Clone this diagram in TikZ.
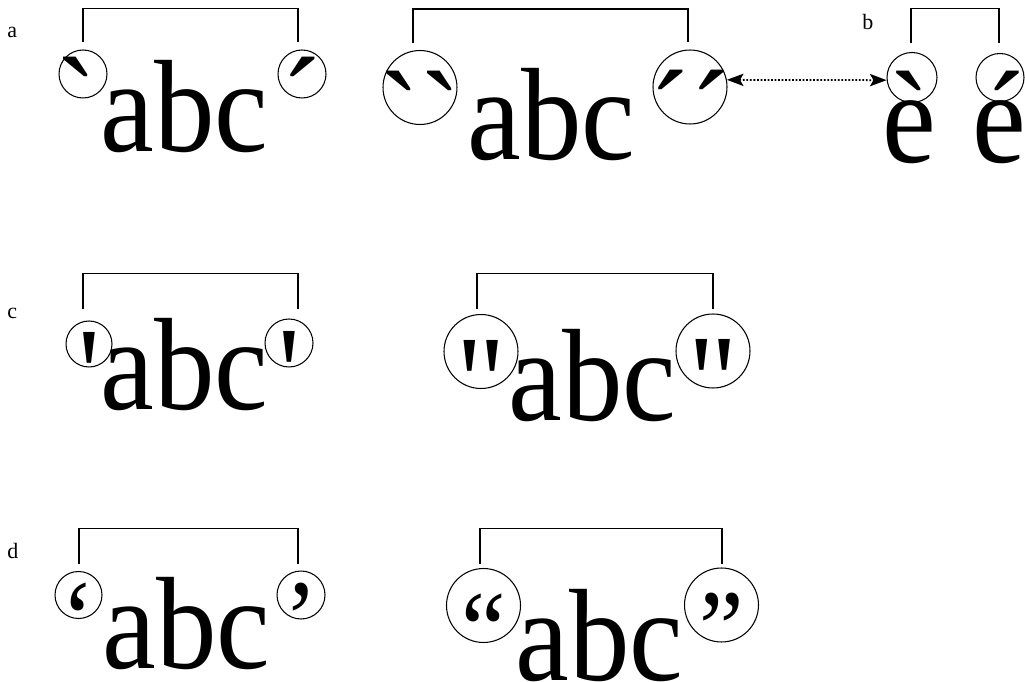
\documentclass[tikz,border=0pt]{standalone}
\usepackage{fontspec}
\setmainfont{Liberation Serif}
\newfontfamily\bigserif[FakeStretch=0.92]{Liberation Serif}
\usetikzlibrary{arrows.meta,calc}

\begin{document}
\begin{tikzpicture}[
  x=0.02cm, y=-0.02cm,
  word/.style={font=\bigserif\fontsize{74.8pt}{80pt}\selectfont,
               inner sep=0pt, anchor=base west},
  qmark/.style={font=\bigserif\fontsize{74.8pt}{80pt}\selectfont,
                inner sep=0pt, text height=3cm, text depth=0pt},
  qsmall/.style={font=\bigserif\fontsize{62pt}{66pt}\selectfont,
                 inner sep=0pt, text height=2.44cm, text depth=0pt},
  ring/.style={draw, circle, line width=0.6pt, inner sep=0pt, minimum size=0.96cm},
  bigring/.style={ring, minimum size=1.48cm},
  tag/.style={font=\fontsize{12.5pt}{14pt}\selectfont, inner sep=0pt, anchor=base west},
  brk/.style={line width=0.6pt},
  dotarr/.style={{Stealth[length=9.5pt,width=7pt,inset=2pt]}-{Stealth[length=9.5pt,width=7pt,inset=2pt]},
                 line width=1pt, dash pattern=on 1pt off 1pt},
]
\useasboundingbox (0,0) rectangle (1025,682);

% ---- Row a: single and double accents ----
\node[tag] (labA) at (7,38) {a};

\node[word] (abcA1) at (100.5,152) {abc};
\node[ring] (a1L) at (83,74) {};
\node[ring] (a1R) at (302,74) {};
\node[qmark, xshift=-0.12cm] (gA1L) at (a1L) {`};
\node[qmark] (gA1R) at (a1R) {´};
\draw[brk] ($(a1L.north)+(0,-7)$) -- ++(0,-34) -| ($(a1R.north)+(-4,-7)$);

\node[word] (abcA2) at (467.5,160) {abc};
\node[bigring] (a2L) at (420,87.5) {};
\node[bigring] (a2R) at (690,87) {};
\node[qmark] (gA2L) at (a2L) {``};
\node[qmark] (gA2R) at (a2R) {´´};
\draw[brk] ($(a2L.north)+(-7,-7)$) -- ++(0,-34) -| ($(a2R.north)+(-2,-7)$);

% ---- Row a, right: accented letters ----
\node[tag] (labB) at (862,30) {b};

\node[word] (eGrave) at (882,163) {è};
\node[word] (eAcute) at (972,163) {é};
\node[ring, minimum size=1cm] (bL) at (912,77.5) {};
\node[ring] (bR) at (1000,77.5) {};
\draw[brk] ($(bL.north)+(-1,-8.5)$) -- ++(0,-35) -| ($(bR.north)+(-1,-9.5)$);

\draw[dotarr] (a2R.11) -- (bL.186);

% ---- Row c: straight quotes ----
\node[tag] (labC) at (7,318) {c};

\node[word] (abcC1) at (100.5,410) {abc};
\node[ring, minimum size=0.92cm] (c1L) at (89,344) {};
\node[ring] (c1R) at (289,343) {};
\node[qmark] (gC1L) at (c1L) {'};
\node[qmark] (gC1R) at (c1R) {'};
\draw[brk] ($(c1L.north)+(-6,-11)$) -- ++(0,-36) -| ($(c1R.north)+(9,-9)$);

\node[word] (abcC2) at (508.5,420) {abc};
\node[bigring] (c2L) at (481,351.5) {};
\node[bigring] (c2R) at (713,351) {};
\node[qmark] (gC2L) at (c2L) {"};
\node[qmark] (gC2R) at (c2R) {"};
\draw[brk] ($(c2L.north)+(-4,-4.5)$) -- ++(0,-36) -| ($(c2R.north)+(0,-4)$);

% ---- Row d: curly quotes ----
\node[tag] (labD) at (7,558) {d};

\node[word] (abcD1) at (102.5,668) {abc};
\node[ring, minimum size=0.94cm] (d1L) at (78.5,595) {};
\node[ring] (d1R) at (301,595) {};
\node[qsmall] (gD1L) at (d1L) {‘};
\node[qsmall] (gD1R) at (d1R) {’};
\draw[brk] ($(d1L.north)+(0.5,-6.5)$) -- ++(0,-36) -| ($(d1R.north)+(-3,-6)$);

\node[word] (abcD2) at (515.5,680) {abc};
\node[bigring] (d2L) at (483.5,605.5) {};
\node[bigring] (d2R) at (721.5,605) {};
\node[qsmall] (gD2L) at (d2L) {“};
\node[qsmall] (gD2R) at (d2R) {”};
\draw[brk] ($(d2L.north)+(-3.5,-3.5)$) -- ++(0,-36) -| ($(d2R.north)+(0.5,-3)$);

\end{tikzpicture}
\end{document}
